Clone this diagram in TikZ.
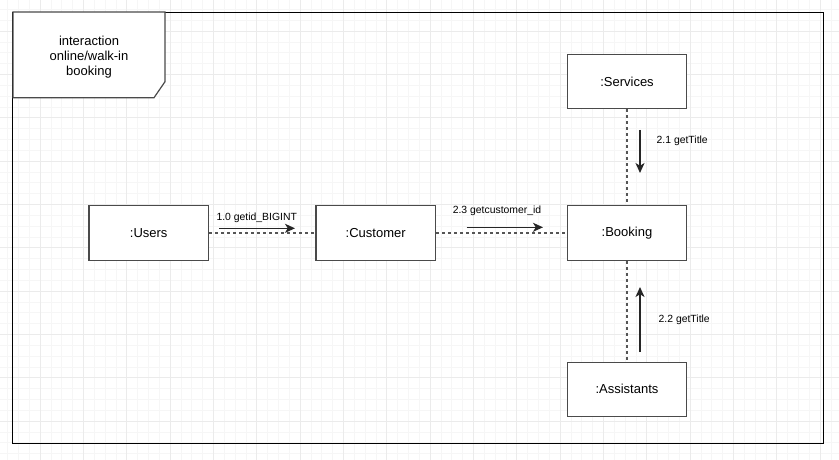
\documentclass[tikz,border=0pt]{standalone}
\usepackage{fontspec}
\setmainfont{Liberation Sans}
\usetikzlibrary{arrows.meta}
\definecolor{gridminor}{HTML}{F6F6F6}
\definecolor{gridmajor}{HTML}{EBEBEB}
\definecolor{boxline}{HTML}{4A4A4A}
\definecolor{dashline}{HTML}{555555}
\tikzset{
  objbox/.style={draw=boxline, line width=1.2pt, fill=white, minimum width=119.5pt, minimum height=54.3pt, inner sep=0pt, font=\fontsize{13}{15}\selectfont},
  lifeline/.style={draw=dashline, line width=1.1pt, dash pattern=on 3pt off 3pt},
  msgarrow/.style={draw=black!85, line width=1.4pt, -{Stealth[length=10pt,width=9pt,inset=2.8pt]}},
  msglabel/.style={inner sep=0pt, font=\fontsize{10.4}{12}\selectfont},
}
\begin{document}
\begin{tikzpicture}[x=1pt,y=-1pt]
\useasboundingbox (0,0) rectangle (839,460);
\fill[white] (0,0) rectangle (839,460);
% grid
\foreach \i in {0,...,78} {
  \pgfmathsetmacro\gx{-3.333+10.8333*\i}
  \draw[gridminor, line width=0.5pt] (\gx,0) -- (\gx,460);
}
\foreach \i in {0,...,43} {
  \pgfmathsetmacro\gy{-12.333+10.8333*\i}
  \draw[gridminor, line width=0.5pt] (0,\gy) -- (839,\gy);
}
\foreach \i in {0,...,20} {
  \pgfmathsetmacro\gx{-3.333+43.3333*\i}
  \draw[gridmajor, line width=0.6pt] (\gx,0) -- (\gx,460);
}
\foreach \i in {0,...,11} {
  \pgfmathsetmacro\gy{-12.333+43.3333*\i}
  \draw[gridmajor, line width=0.6pt] (0,\gy) -- (839,\gy);
}
% frame
\draw[black, line width=0.9pt] (12.8,12) rectangle (823.2,443);
% header
\draw[draw=boxline, fill=white, line width=1.2pt] (13,12) -- (165,12) -- (165,81.7) -- (154,97.7) -- (13,97.7) -- cycle;
\node[align=center, inner sep=0pt, font=\fontsize{13}{14.8}\selectfont] (hdr) at (89,57) {interaction\\online/walk-in\\booking};
% objects
\node[objbox] (users) at (148.7,233) {:Users};
\node[objbox] (customer) at (375.7,233) {:Customer};
\node[objbox] (booking) at (627,233) {:Booking};
\node[objbox] (services) at (627,81.5) {:Services};
\node[objbox] (assistants) at (627,389.3) {:Assistants};
% links
\draw[lifeline] (users) -- (customer);
\draw[lifeline] (customer) -- (booking);
\draw[lifeline] (services) -- (booking);
\draw[lifeline] (booking) -- (assistants);
% messages
\coordinate (m1s) at (219,228.3);
\coordinate (m1e) at (295,228.3);
\draw[msgarrow] (m1s) -- (m1e);
\node[msglabel] (l1) at (256.7,217.5) {1.0 getid\_BIGINT};
\coordinate (m2s) at (466.7,227.3);
\coordinate (m2e) at (543,227.3);
\draw[msgarrow] (m2s) -- (m2e);
\node[msglabel] (l2) at (497,211) {2.3 getcustomer\_id};
\coordinate (m3s) at (640,130);
\coordinate (m3e) at (640,173);
\draw[msgarrow] (m3s) -- (m3e);
\node[msglabel, anchor=west] (l3) at (656.5,141.3) {2.1 getTitle};
\coordinate (m4s) at (640,352);
\coordinate (m4e) at (640,287);
\draw[msgarrow] (m4s) -- (m4e);
\node[msglabel, anchor=west] (l4) at (658.5,320) {2.2 getTitle};
\end{tikzpicture}
\end{document}
